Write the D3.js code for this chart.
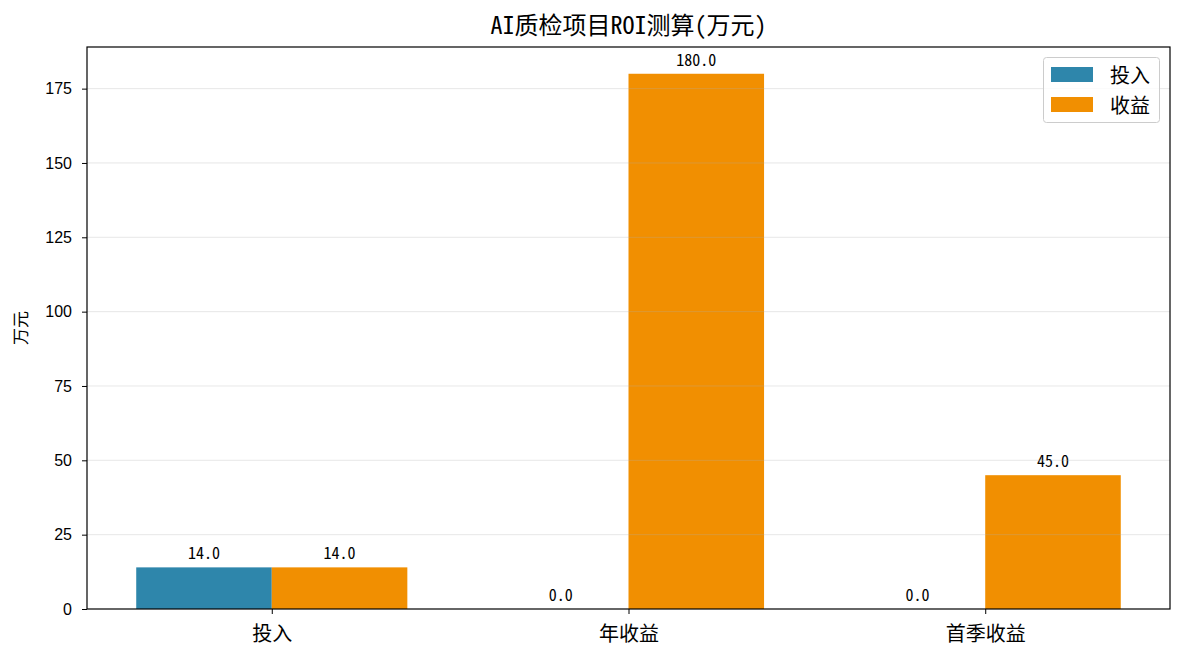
<!DOCTYPE html>
<html><head><meta charset="utf-8">
<script src="https://cdn.jsdelivr.net/npm/d3@7"></script>
<style>body{margin:0;background:#fff;} svg{display:block;font-family:"Noto Sans CJK SC","DejaVu Sans",sans-serif;}</style>
</head><body>
<script>
const categories = ["投入", "年收益", "首季收益"];
const seriesNames = ["投入", "收益"];
const investValues = [14.0, 0.0, 0.0];
const returnValues = [14.0, 180.0, 45.0];
const yTicks = [0, 25, 50, 75, 100, 125, 150, 175];
const colors = ["#2E86AB", "#F18F01"];

const MONO = "'Noto Sans Mono CJK SC','Noto Sans CJK SC','DejaVu Sans Mono',monospace";
const W = 1185, H = 659;
const m = {left: 87, right: 1170, top: 47, bottom: 609};
const svg = d3.select("body").append("svg").attr("width", W).attr("height", H);

const barW = 0.38;
const x = d3.scaleLinear().domain([-0.518, 2.518]).range([m.left, m.right]);
const y = d3.scaleLinear().domain([0, 189]).range([m.bottom, m.top]);

const series = [investValues, returnValues];
const g = svg.append("g");
series.forEach((vals, si) => {
  const off = si === 0 ? -barW/2 : barW/2;
  g.selectAll(null).data(vals).enter().append("rect")
    .attr("x", (d,i) => x(i + off - barW/2))
    .attr("width", (d,i) => x(i + off + barW/2) - x(i + off - barW/2))
    .attr("y", d => y(d))
    .attr("height", d => y(0) - y(d))
    .attr("fill", colors[si]);
  g.selectAll(null).data(vals).enter().append("text")
    .attr("x", (d,i) => x(i + off))
    .attr("y", d => y(d) - 8)
    .attr("text-anchor", "middle")
    .attr("font-size", 16)
    .style("font-family", MONO)
    .attr("fill", "#000")
    .text(d => d.toFixed(1));
});

// grid on top
svg.append("g").selectAll("line").data(yTicks.filter(t => t > 0)).enter().append("line")
  .attr("x1", m.left).attr("x2", m.right)
  .attr("y1", d => y(d)).attr("y2", d => y(d))
  .attr("stroke", "#b0b0b0").attr("stroke-opacity", 0.3).attr("stroke-width", 1);

// axes
const yAxis = d3.axisLeft(y).tickValues(yTicks).tickSize(5).tickPadding(10);
const ya = svg.append("g").attr("transform", `translate(${m.left},0)`).call(yAxis);
ya.select(".domain").remove();
ya.selectAll("text").attr("font-size", 16).attr("fill", "#000").style("font-family", "'Liberation Sans',Arial,sans-serif");
ya.selectAll("line").attr("stroke", "#000");

const xAxis = d3.axisBottom(x).tickValues([0,1,2]).tickFormat(i => categories[i]).tickSize(5).tickPadding(13);
const xa = svg.append("g").attr("transform", `translate(0,${m.bottom})`).call(xAxis);
xa.select(".domain").remove();
xa.selectAll("text").attr("font-size", 20).attr("fill", "#000").style("font-family", "'Noto Sans CJK SC'");
xa.selectAll("line").attr("stroke", "#000");

svg.append("rect").attr("x", m.left).attr("y", m.top)
  .attr("width", m.right - m.left).attr("height", m.bottom - m.top)
  .attr("fill", "none").attr("stroke", "#000").attr("stroke-width", 1.2);

svg.append("text").attr("x", (m.left + m.right)/2).attr("y", 34)
  .attr("text-anchor", "middle").attr("font-size", 24).attr("fill", "#000")
  .style("font-family", MONO)
  .text("AI质检项目ROI测算(万元)");

svg.append("text").attr("transform", `translate(27,${(m.top+m.bottom)/2}) rotate(-90)`)
  .attr("text-anchor", "middle").attr("font-size", 17).attr("fill", "#000").text("万元");

// legend
const lg = svg.append("g");
lg.append("rect").attr("x", 1043.5).attr("y", 57.5).attr("width", 116).attr("height", 65)
  .attr("rx", 3).attr("fill", "#fff").attr("fill-opacity", 0.8).attr("stroke", "#ccc");
seriesNames.forEach((n, i) => {
  const yy = 67 + i * 30;
  lg.append("rect").attr("x", 1051).attr("y", yy).attr("width", 42).attr("height", 15).attr("fill", colors[i]);
  lg.append("text").attr("x", 1110).attr("y", yy + 16).attr("font-size", 20).attr("fill", "#000").text(n);
});
</script>
</body></html>
